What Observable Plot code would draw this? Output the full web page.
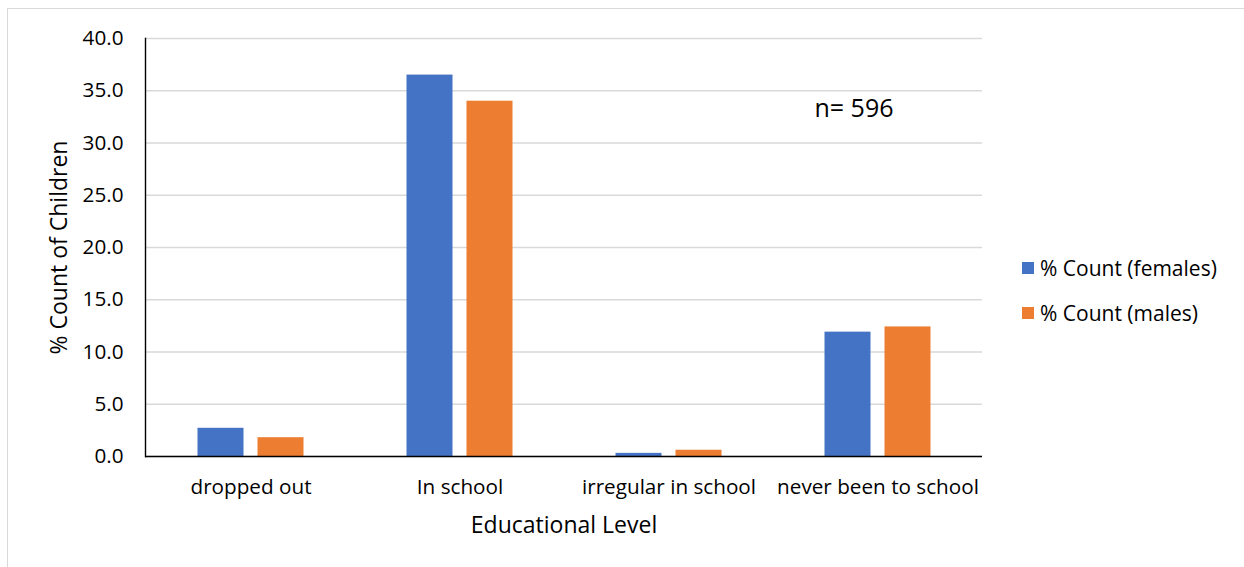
<!DOCTYPE html>
<html>
<head>
<meta charset="utf-8">
<script src="https://cdn.jsdelivr.net/npm/d3@7"></script>
<script src="https://cdn.jsdelivr.net/npm/@observablehq/plot@0.6"></script>
<style>
  html, body { margin: 0; padding: 0; background: #fff; }
  #wrap { position: relative; width: 1244px; height: 567px; overflow: hidden; font-family: "Open Sans", Lato, sans-serif; }
  #border { position: absolute; left: 7px; top: 8px; width: 1260px; height: 600px; border: 1px solid #d9d9d9; box-sizing: border-box; }
  #chart { position: absolute; left: 0; top: 0; }
  #legend { position: absolute; left: 1022px; top: 254px; font-size: 21px; color: #000; }
  #legend .item { display: flex; align-items: center; height: 28px; margin-bottom: 17px; }
  #legend .sw { width: 12px; height: 12px; margin-right: 6px; }
</style>
</head>
<body>
<div id="wrap">
  <div id="border"></div>
  <div id="chart"></div>
  <div id="legend"></div>
</div>
<script>
// Share of children by educational level, split by sex
const categories = ["dropped out", "In school", "irregular in school", "never been to school"];
const females = [2.7, 36.5, 0.3, 11.9];
const males = [1.8, 34.0, 0.6, 12.4];
const seriesNames = ["% Count (females)", "% Count (males)"];
const seriesColors = ["#4472C4", "#ED7D31"];
const yTicks = [0, 5, 10, 15, 20, 25, 30, 35, 40];
const sampleNote = "n= 596";

const femaleRows = categories.map((c, i) => ({category: c, value: females[i]}));
const maleRows = categories.map((c, i) => ({category: c, value: males[i]}));

const font = "'Open Sans', Lato, sans-serif";

const chart = Plot.plot({
  width: 1244,
  height: 567,
  marginLeft: 145,
  marginRight: 262,
  marginTop: 38,
  marginBottom: 111,
  style: {fontFamily: font, fontSize: "20px", color: "#000", background: "transparent"},
  x: {domain: categories, padding: 0, label: null},
  y: {domain: [0, 40], label: null},
  marks: [
    Plot.gridY(yTicks, {stroke: "#d9d9d9", strokeOpacity: 1, strokeWidth: 1.3}),
    // bars: two per category, placed inside each band with insets
    Plot.barY(femaleRows, {x: "category", y: "value", fill: seriesColors[0], insetLeft: 51.5, insetRight: 111.5}),
    Plot.barY(maleRows, {x: "category", y: "value", fill: seriesColors[1], insetLeft: 111.5, insetRight: 51.5}),
    Plot.ruleY([0], {stroke: "#000", strokeWidth: 1.6}),
    Plot.frame({anchor: "left", stroke: "#000", strokeWidth: 1.4}),
    Plot.axisY(yTicks, {
      tickSize: 0, tickPadding: 22, tickFormat: d => d.toFixed(1), fontSize: 20.7,
      label: null
    }),
    Plot.axisY({
      ticks: [], tickSize: 0, fontSize: 23,
      label: "% Count of Children", labelArrow: false, labelAnchor: "center", labelOffset: 95
    }),
    Plot.axisX({
      tickSize: 0, tickPadding: 23, fontSize: 20.7, label: null
    }),
    Plot.axisX({
      ticks: [], tickSize: 0, fontSize: 23,
      label: "Educational Level", labelArrow: false, labelAnchor: "center", labelOffset: 76
    }),
    Plot.text([sampleNote], {
      frameAnchor: "top-right", dx: -89, dy: 70, textAnchor: "end", lineAnchor: "middle",
      fontSize: 25, fill: "#000"
    })
  ]
});
document.getElementById("chart").appendChild(chart);

// legend
const legend = d3.select("#legend");
seriesNames.forEach((name, i) => {
  const item = legend.append("div").attr("class", "item");
  item.append("div").attr("class", "sw").style("background", seriesColors[i]);
  item.append("span").text(name);
});
</script>
</body>
</html>
